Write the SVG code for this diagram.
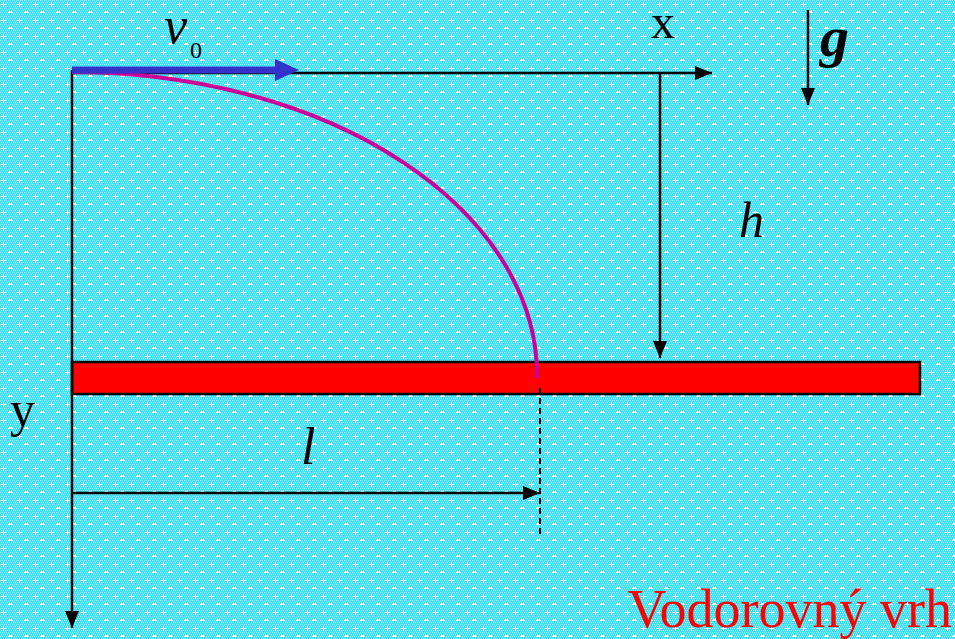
<svg xmlns="http://www.w3.org/2000/svg" width="955" height="639" viewBox="0 0 955 639">
<defs>
<pattern id="bg" width="16" height="16" patternUnits="userSpaceOnUse">
<rect width="16" height="16" fill="#3FE0F2"/>
<path d="M0,0h1v1h-1zM2,0h1v1h-1zM4,0h1v1h-1zM6,0h1v1h-1zM8,0h1v1h-1zM10,0h1v1h-1zM12,0h1v1h-1zM14,0h1v1h-1z" fill="#9CF2FA"/>
<path d="M1,2h1v1h-1zM3,2h1v1h-1zM5,2h1v1h-1zM7,2h1v1h-1zM9,2h1v1h-1zM11,2h1v1h-1zM13,2h1v1h-1zM15,2h1v1h-1z" fill="#9CF2FA"/>
<path d="M0,4h1v1h-1zM2,4h1v1h-1zM4,4h1v1h-1zM6,4h1v1h-1zM8,4h1v1h-1zM10,4h1v1h-1zM12,4h1v1h-1zM14,4h1v1h-1z" fill="#9CF2FA"/>
<path d="M1,6h1v1h-1zM3,6h1v1h-1zM5,6h1v1h-1zM7,6h1v1h-1zM9,6h1v1h-1zM11,6h1v1h-1zM13,6h1v1h-1zM15,6h1v1h-1z" fill="#9CF2FA"/>
<path d="M0,8h1v1h-1zM2,8h1v1h-1zM4,8h1v1h-1zM6,8h1v1h-1zM8,8h1v1h-1zM10,8h1v1h-1zM12,8h1v1h-1zM14,8h1v1h-1z" fill="#9CF2FA"/>
<path d="M1,10h1v1h-1zM3,10h1v1h-1zM5,10h1v1h-1zM7,10h1v1h-1zM9,10h1v1h-1zM11,10h1v1h-1zM13,10h1v1h-1zM15,10h1v1h-1z" fill="#9CF2FA"/>
<path d="M0,12h1v1h-1zM2,12h1v1h-1zM4,12h1v1h-1zM6,12h1v1h-1zM8,12h1v1h-1zM10,12h1v1h-1zM12,12h1v1h-1zM14,12h1v1h-1z" fill="#9CF2FA"/>
<path d="M1,14h1v1h-1zM3,14h1v1h-1zM5,14h1v1h-1zM7,14h1v1h-1zM9,14h1v1h-1zM11,14h1v1h-1zM13,14h1v1h-1zM15,14h1v1h-1z" fill="#9CF2FA"/>
<path d="M3,2h1v5h-1zM1,4h5v1h-5z" fill="#FFFFFF"/>
<path d="M9,11h3v1h-3zM8,12h5v1h-5z" fill="#FFFFFF"/>
</pattern>
<marker id="ah" markerWidth="17" markerHeight="14" refX="17" refY="7" orient="auto" markerUnits="userSpaceOnUse">
<path d="M0,0L17,7L0,14z" fill="#000"/>
</marker>
<style>
.ax{stroke:#000;stroke-width:2.5;fill:none}
.t{font-family:"Liberation Serif","Times New Roman",serif;fill:#000}
.it{font-style:italic}
</style>
</defs>
<rect width="955" height="639" fill="url(#bg)"/>

<g id="ground">
<rect x="72" y="362" width="848" height="32" fill="#FF0000" stroke="#000" stroke-width="2.5"/>
</g>

<g id="connectors">
<line class="ax" x1="72" y1="70" x2="72" y2="628" marker-end="url(#ah)"/>
<line class="ax" x1="72" y1="73" x2="712" y2="73" marker-end="url(#ah)"/>
<line class="ax" x1="660" y1="73" x2="660" y2="358" marker-end="url(#ah)"/>
<line class="ax" x1="808" y1="10" x2="808" y2="105" marker-end="url(#ah)"/>
<line class="ax" x1="72" y1="493" x2="540" y2="493" marker-end="url(#ah)"/>
<line x1="540" y1="388" x2="540" y2="537" stroke="#000" stroke-width="2" stroke-dasharray="6,4"/>
</g>

<g id="trajectory">
<path d="M72,72 A465,303 0 0 1 537,378" fill="none" stroke="#CC0099" stroke-width="4"/>
</g>

<g id="velocity">
<line x1="72" y1="70" x2="278" y2="70" stroke="#3333CC" stroke-width="7"/>
<path d="M275,59L299,70L275,81z" fill="#3333CC"/>
</g>

<g id="labels">
<text class="t it" x="164" y="43" font-size="52">v</text>
<text class="t" x="190" y="58" font-size="24">0</text>
<text class="t" x="651" y="38" font-size="48">x</text>
<text class="t it" x="820" y="56" font-size="58" font-weight="bold">g</text>
<text class="t it" x="739" y="237" font-size="50">h</text>
<text class="t it" x="301" y="464" font-size="52">l</text>
<text class="t" x="10" y="426" font-size="50">y</text>
<text class="t" x="952" y="627" font-size="54" text-anchor="end" style="fill:#FF0000">Vodorovný vrh</text>
</g>
</svg>
